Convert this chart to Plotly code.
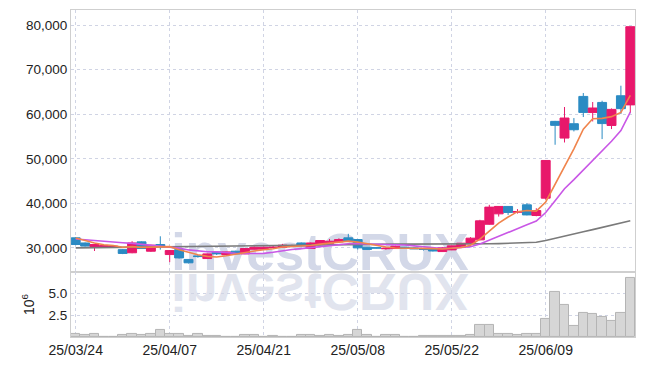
import plotly.graph_objects as go
from plotly.subplots import make_subplots

dates = ["25/03/24", "25/03/25", "25/03/26", "25/03/27", "25/03/28",
         "25/03/31", "25/04/01", "25/04/02", "25/04/03", "25/04/04",
         "25/04/07", "25/04/08", "25/04/09", "25/04/10", "25/04/11",
         "25/04/14", "25/04/15", "25/04/16", "25/04/17", "25/04/18",
         "25/04/21", "25/04/22", "25/04/23", "25/04/24", "25/04/25",
         "25/04/28", "25/04/29", "25/04/30", "25/05/02", "25/05/07",
         "25/05/08", "25/05/09", "25/05/12", "25/05/13", "25/05/14",
         "25/05/15", "25/05/16", "25/05/19", "25/05/20", "25/05/21",
         "25/05/22", "25/05/23", "25/05/26", "25/05/27", "25/05/28",
         "25/05/29", "25/05/30", "25/06/02", "25/06/04", "25/06/05",
         "25/06/09", "25/06/10", "25/06/11", "25/06/12", "25/06/13",
         "25/06/16", "25/06/17", "25/06/18", "25/06/19", "25/06/20"]

open_ = [32250, 31100, 30200, 30150, 30300, 29600, 28900, 31350, 29250, 30750,
         28500, 29600, 27400, 28200, 27600, 29100, 28500, 29250, 28650, 29700,
         29700, 30050, 30150, 30350, 31100, 29850, 30750, 31050, 31350, 32250,
         31870, 30150, 30050, 29800, 29850, 30150, 30000, 29750, 29850, 29170,
         29550, 30150, 30900, 31800, 35300, 37640, 39300, 38000, 39660, 37260,
         41160, 58400, 54650, 57870, 64000, 60400, 62650, 57480, 64150, 62100]
high = [32400, 31200, 30800, 30600, 30500, 29750, 31500, 31450, 30700, 32600,
        29500, 29700, 27500, 28400, 28700, 29200, 29150, 29350, 29900, 30300,
        30300, 30500, 30900, 30700, 31200, 31200, 31700, 32000, 32150, 33150,
        31950, 30200, 30100, 30100, 30500, 30200, 30050, 29900, 29900, 30200,
        30500, 31100, 32400, 36300, 39660, 39400, 39400, 38700, 40040, 38900,
        49700, 58500, 61620, 59140, 64760, 62740, 63030, 61300, 66400, 79700]
low = [30600, 30300, 29300, 30000, 30100, 28600, 28800, 29750, 29100, 29600,
       26800, 27600, 26500, 27800, 27500, 28400, 28400, 28600, 28600, 29650,
       29650, 29900, 30100, 30200, 30300, 29800, 30700, 31000, 31300, 31450,
       29600, 29600, 29900, 29600, 29800, 29850, 29750, 29400, 29200, 29100,
       29500, 30100, 30850, 31700, 35200, 37030, 37400, 37700, 37300, 37100,
       40800, 53150, 53660, 56140, 59370, 58380, 54420, 56670, 60040, 60270]
close = [30750, 30400, 30750, 30500, 30350, 28750, 31100, 29850, 30600, 30400,
         29400, 27750, 26650, 28050, 28650, 28650, 29100, 28650, 29850, 30150,
         30150, 30150, 30600, 30450, 30400, 31100, 31650, 31500, 31870, 31500,
         30000, 29650, 29950, 29900, 30380, 29900, 29800, 29700, 29300, 30000,
         30450, 31050, 32180, 36070, 39150, 39300, 37950, 38160, 37400, 38380,
         49620, 57500, 59150, 56520, 60400, 61400, 57900, 61090, 61250, 79650]

ma5 = [32200, 31600, 31100, 30700, 30550, 30150, 30290, 30110, 30130, 30140,
       30270, 29600, 28960, 28450, 28100, 27950, 28220, 28620, 28980, 29280,
       29580, 29790, 30180, 30300, 30350, 30540, 30840, 31020, 31300, 31520,
       31300, 30900, 30590, 30200, 29980, 29960, 29990, 29940, 29820, 29740,
       29850, 30100, 30600, 31950, 33780, 35550, 36930, 38130, 38390, 38240,
       40300, 44210, 48410, 52230, 56640, 58990, 59070, 59460, 60410, 64260]
ma10 = [32000, 31800, 31600, 31450, 31300, 31150, 31000, 30800, 30600, 30350,
        30210, 29950, 29540, 29290, 29120, 29110, 28910, 28790, 28720, 28690,
        28770, 29010, 29400, 29640, 29820, 30060, 30320, 30600, 30800, 30940,
        30920, 30870, 30810, 30750, 30750, 30630, 30450, 30270, 30010, 29860,
        29900, 30040, 30270, 30880, 31760, 32700, 33520, 34360, 35170, 36010,
        37930, 40570, 43270, 45310, 47440, 49650, 51640, 53940, 56320, 60450]
ma60 = [30000, 30030, 30060, 30090, 30120, 30150, 30180, 30210, 30240, 30270,
        30300, 30330, 30360, 30390, 30420, 30450, 30480, 30510, 30540, 30570,
        30600, 30630, 30660, 30690, 30720, 30750, 30770, 30790, 30810, 30830,
        30850, 30850, 30850, 30850, 30850, 30850, 30840, 30830, 30820, 30810,
        30800, 30820, 30850, 30880, 30910, 30950, 31010, 31070, 31150, 31250,
        31650, 32100, 32600, 33100, 33600, 34100, 34600, 35100, 35600, 36100]

volume = [300000, 200000, 350000, 50000, 50000, 200000, 300000, 200000, 300000, 850000,
          300000, 300000, 100000, 350000, 100000, 100000, 50000, 30000, 200000, 200000,
          30000, 100000, 30000, 30000, 200000, 200000, 150000, 200000, 150000, 200000,
          800000, 200000, 50000, 200000, 200000, 50000, 50000, 100000, 100000, 100000,
          100000, 100000, 200000, 1330000, 1330000, 350000, 350000, 200000, 350000, 350000,
          2050000, 5100000, 3600000, 1250000, 2700000, 2600000, 2300000, 1800000, 2700000, 6700000]

price_ticks = [30000, 40000, 50000, 60000, 70000, 80000]
vol_ticks = [2500000, 5000000]
vol_tick_text = ["2.5", "5.0"]
x_ticks = ["25/03/24", "25/04/07", "25/04/21", "25/05/08", "25/05/22", "25/06/09"]

UP = "#e8186b"
DOWN = "#2b8bc3"
GRID = "#d0d4e4"
FRAME = "#cfcfcf"
FONT = "Liberation Sans"

fig = make_subplots(rows=2, cols=1, shared_xaxes=True, vertical_spacing=0,
                    row_heights=[0.801, 0.199])

fig.add_trace(go.Scatter(x=dates, y=ma60, mode="lines", line=dict(color="#7a7a7a", width=1.6),
                         hoverinfo="skip", showlegend=False), row=1, col=1)
fig.add_trace(go.Candlestick(x=dates, open=open_, high=high, low=low, close=close,
                             increasing=dict(line=dict(color=UP, width=1), fillcolor=UP),
                             decreasing=dict(line=dict(color=DOWN, width=1), fillcolor=DOWN),
                             whiskerwidth=0, showlegend=False), row=1, col=1)
fig.add_trace(go.Scatter(x=dates, y=ma10, mode="lines", line=dict(color="#c957e6", width=1.6),
                         hoverinfo="skip", showlegend=False), row=1, col=1)
fig.add_trace(go.Scatter(x=dates, y=ma5, mode="lines", line=dict(color="#f0844c", width=1.6),
                         hoverinfo="skip", showlegend=False), row=1, col=1)
fig.add_trace(go.Bar(x=dates, y=volume, marker=dict(color="#d6d6d6", line=dict(color="#b4b4b4", width=1)),
                     showlegend=False), row=2, col=1)

fig.update_layout(
    width=645, height=366,
    margin=dict(l=71, r=10, t=10, b=29, autoexpand=False),
    paper_bgcolor="white", plot_bgcolor="white",
    bargap=0, boxgap=0.05, boxgroupgap=0.0, boxmode="overlay",
    font=dict(family=FONT, size=13.5, color="#222222"),
    shapes=[
        dict(type="rect", xref="paper", yref="paper", x0=0.44, x1=0.443, y0=0.274, y1=0.276,
             line=dict(width=0), fillcolor="rgba(0,0,0,0)", layer="below",
             label=dict(text="investCRUX", textposition="middle center",
                        font=dict(family="Liberation Sans", size=52, color="#d3d8e8", weight="bold"))),
        dict(type="rect", xref="paper", yref="paper", x0=0.44, x1=0.443, y0=0.152, y1=0.154,
             line=dict(width=0), fillcolor="rgba(0,0,0,0)", layer="below",
             label=dict(text="investCRUX", textposition="middle center",
                        font=dict(family="Liberation Sans", size=52, color="#e1e4ee", weight="bold"))),
    ],
)

fig.update_xaxes(type="category", rangeslider_visible=False, range=[-0.5, 59.5],
                 showgrid=True, gridcolor=GRID, griddash="dot", gridwidth=1,
                 tickmode="array", tickvals=x_ticks, ticktext=x_ticks, automargin=False,
                 showline=True, linecolor=FRAME, mirror=True, ticks="")
fig.update_xaxes(showticklabels=False, row=1, col=1)
fig.update_xaxes(showticklabels=True, tickfont=dict(size=14), row=2, col=1)

fig.update_yaxes(range=[24600, 83400], tickvals=price_ticks, tickformat=",d", automargin=False,
                 showgrid=True, gridcolor=GRID, griddash="dot", zeroline=False,
                 showline=True, linecolor=FRAME, mirror=True, ticks="", row=1, col=1)
fig.update_yaxes(range=[0, 7400000], tickvals=vol_ticks, ticktext=vol_tick_text, automargin=False,
                 showgrid=True, gridcolor=GRID, griddash="dot", zeroline=False,
                 showline=True, linecolor=FRAME, mirror=True, ticks="",
                 title=dict(text="10<sup>6</sup>", font=dict(family=FONT, size=14), standoff=10),
                 row=2, col=1)

post = """
document.body.style.margin = '0';
var ts = Array.prototype.filter.call(document.querySelectorAll('text'), function(e){return e.textContent==='investCRUX';});
if (ts.length > 1) { var t = ts[1]; t.style.transformBox='fill-box'; t.style.transformOrigin='center'; t.style.transform='scaleY(-1)'; }
"""
fig.write_html("out.html", post_script=post, config={"displayModeBar": False})
